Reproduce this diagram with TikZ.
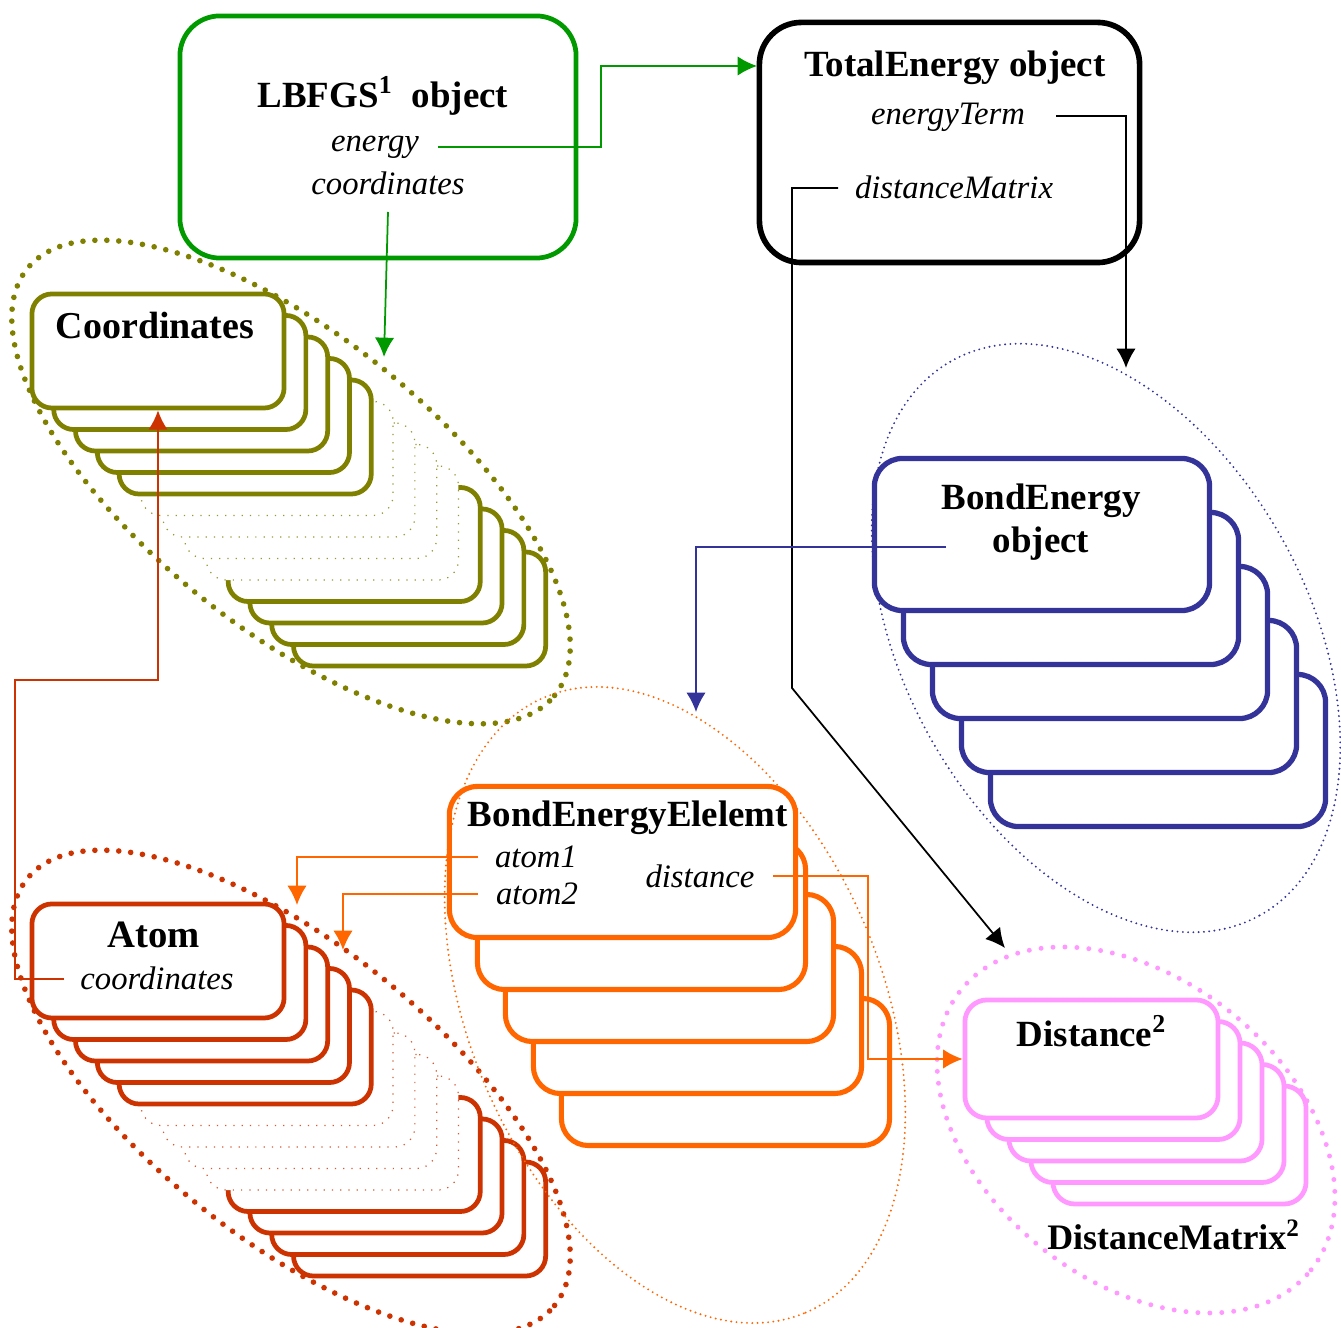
\documentclass[tikz,border=0pt]{standalone}
\usepackage{fontspec}
\setmainfont{Liberation Serif}
\usetikzlibrary{arrows.meta}

\definecolor{lbfgsgreen}{HTML}{009900}
\definecolor{coordolive}{HTML}{808000}
\definecolor{atomred}{HTML}{CC3300}
\definecolor{bondorange}{HTML}{FF6600}
\definecolor{bondblue}{HTML}{333399}
\definecolor{distpink}{HTML}{FF99FF}

\tikzset{
  objbox/.style={draw, fill=white, inner sep=0pt, line width=1.35pt},
  ghostbox/.style={draw, fill=white, inner sep=0pt, line width=0.35pt, dotted},
  smallcard/.style={rounded corners=0.2cm, minimum width=2.52cm, minimum height=1.14cm},
  title/.style={font=\fontsize{10.5}{12.2}\selectfont\bfseries, align=center},
  member/.style={font=\fontsize{9.3}{11}\selectfont\itshape},
  bigring/.style={line width=1.6pt, line cap=round, dash pattern=on 0pt off 3.4pt},
  thinring/.style={line width=0.6pt, line cap=round, dash pattern=on 0pt off 1.5pt},
  link/.style={line width=0.5pt, -{Latex[length=5.5pt,width=5.5pt]}},
}

\begin{document}
\begin{tikzpicture}[x=0.01cm, y=-0.01cm]
    \useasboundingbox (0,0) rectangle (1341,1328);

    % LBFGS and TotalEnergy objects
    \node[objbox, draw=lbfgsgreen, rounded corners=0.4cm, minimum width=3.96cm, minimum height=2.42cm] (lbfgsBox) at (378,137) {};
    \node[title] (lbfgsTitle) at (383,96) {LBFGS\textsuperscript{1}\ \ object};
    \node[member] (lbfgsEnergy) at (375,147) {energy};
    \node[member] (lbfgsCoords) at (388,183) {coordinates};

    \node[objbox, line width=1.6pt, rounded corners=0.42cm, minimum width=3.8cm, minimum height=2.4cm] (teBox) at (949.5,142.5) {};
    \node[title] (teTitle) at (955,68) {TotalEnergy object};
    \node[member] (teEnergyTerm) at (948,117) {energyTerm};
    \node[member] (teDistMatrix) at (954,187) {distanceMatrix};

    % Coordinates stack
    \foreach \i in {12,11,10,9}
        \node[objbox, draw=coordolive, smallcard] (coord\i) at ({158+21.8*\i},{351+21.5*\i}) {};
    \foreach \i in {8,7,6,5}
        \node[ghostbox, draw=coordolive!80, smallcard] (coord\i) at ({158+21.8*\i},{351+21.5*\i}) {};
    \foreach \i in {4,3,2,1,0}
        \node[objbox, draw=coordolive, smallcard] (coord\i) at ({158+21.8*\i},{351+21.5*\i}) {};
    \node[title, font=\fontsize{10.8}{13}\selectfont\bfseries] (coordTitle) at (155,326) {Coordinates};

    % Atom stack
    \foreach \i in {12,11,10,9}
        \node[objbox, draw=atomred, smallcard] (atom\i) at ({158+21.8*\i},{961+21.5*\i}) {};
    \foreach \i in {8,7,6,5}
        \node[ghostbox, draw=atomred!80, smallcard] (atom\i) at ({158+21.8*\i},{961+21.5*\i}) {};
    \foreach \i in {4,3,2,1,0}
        \node[objbox, draw=atomred, smallcard] (atom\i) at ({158+21.8*\i},{961+21.5*\i}) {};
    \node[title, font=\fontsize{11}{13}\selectfont\bfseries] (atomTitle) at (154,935) {Atom};
    \node[member] (atomCoords) at (157,978) {coordinates};

    % BondEnergyElelemt stack
    \foreach \i in {4,3,2,1}
        \node[objbox, draw=bondorange, line width=1.45pt, rounded corners=0.27cm, minimum width=3.28cm, minimum height=1.47cm] (elem\i) at ({613.5+28*\i},{864+52*\i}) {};
    \node[objbox, draw=bondorange, line width=1.45pt, rounded corners=0.28cm, minimum width=3.46cm, minimum height=1.51cm] (elem0) at (622.5,862) {};
    \node[title] (elemTitle) at (628,818) {BondEnergyElelemt};
    \node[member] (elemAtomA) at (536,857) {atom1};
    \node[member] (elemAtomB) at (537,894) {atom2};
    \node[member] (elemDistance) at (700,876) {distance};

    % BondEnergy stack
    \foreach \i in {4,3,2,1,0}
        \node[objbox, draw=bondblue, line width=1.5pt, rounded corners=0.28cm, minimum width=3.35cm, minimum height=1.52cm] (bond\i) at ({1042+29*\i},{534.5+54*\i}) {};
    \node[title] (bondTitle) at (1041,522) {BondEnergy\\object};

    % Distance stack
    \foreach \i in {4,3,2,1,0}
        \node[objbox, draw=distpink, rounded corners=0.22cm, minimum width=2.53cm, minimum height=1.18cm] (dist\i) at ({1091.5+22*\i},{1059+21.5*\i}) {};
    \node[title] (distTitle) at (1092,1031) {Distance\textsuperscript{2}};
    \node[title, font=\fontsize{10.2}{12}\selectfont\bfseries] (distMatrixTitle) at (1174,1235) {DistanceMatrix\textsuperscript{2}};

    % Dotted rings round the collections
    \draw[bigring, coordolive, rotate around={-39:(291,482)}] (291,482) ellipse [x radius=3.39cm, y radius=1.46cm];
    \draw[bigring, atomred, rotate around={-39:(291,1092)}] (291,1092) ellipse [x radius=3.39cm, y radius=1.46cm];
    \draw[thinring, bondorange, rotate around={-67:(675,1005)}] (675,1005) ellipse [x radius=3.34cm, y radius=2.06cm];
    \draw[thinring, bondblue, rotate around={-61:(1106,638)}] (1106,638) ellipse [x radius=3.17cm, y radius=2.02cm];
    \draw[bigring, distpink, line width=1.4pt, rotate around={-38.6:(1136,1130)}] (1136,1130) ellipse [x radius=2.24cm, y radius=1.51cm];

    % Connector ends
    \coordinate (enOut) at (438,147);
    \coordinate (teIn) at (757,66);
    \coordinate (lcOut) at (388,212);
    \coordinate (coordRingTop) at (384,357);
    \coordinate (etOut) at (1056,116);
    \coordinate (bondRingTop) at (1126,368);
    \coordinate (dmOut) at (838,188);
    \coordinate (dmBend) at (792,688);
    \coordinate (distRingTop) at (1005,948);
    \coordinate (beOut) at (946,547);
    \coordinate (elemRingTop) at (696,712);
    \coordinate (aOneOut) at (478,857);
    \coordinate (atomInA) at (297,905);
    \coordinate (aTwoOut) at (478,894);
    \coordinate (atomInB) at (343,950);
    \coordinate (dOut) at (773,876);
    \coordinate (acOut) at (64,979);
    \coordinate (acBend) at (15,680);

    % Connectors
    \draw[link, lbfgsgreen] (enOut) -- ++(163,0) |- (teIn);
    \draw[link, lbfgsgreen] (lcOut) -- (coordRingTop);
    \draw[link] (etOut) -| (bondRingTop);
    \draw[link] (dmOut) -| (dmBend) -- (distRingTop);
    \draw[link, bondblue] (beOut) -| (elemRingTop);
    \draw[link, bondorange] (aOneOut) -| (atomInA);
    \draw[link, bondorange] (aTwoOut) -| (atomInB);
    \draw[link, bondorange] (dOut) -- ++(95,0) |- (dist0.west);
    \draw[link, atomred] (acOut) -| (acBend) -| (coord0.south);

\end{tikzpicture}
\end{document}
